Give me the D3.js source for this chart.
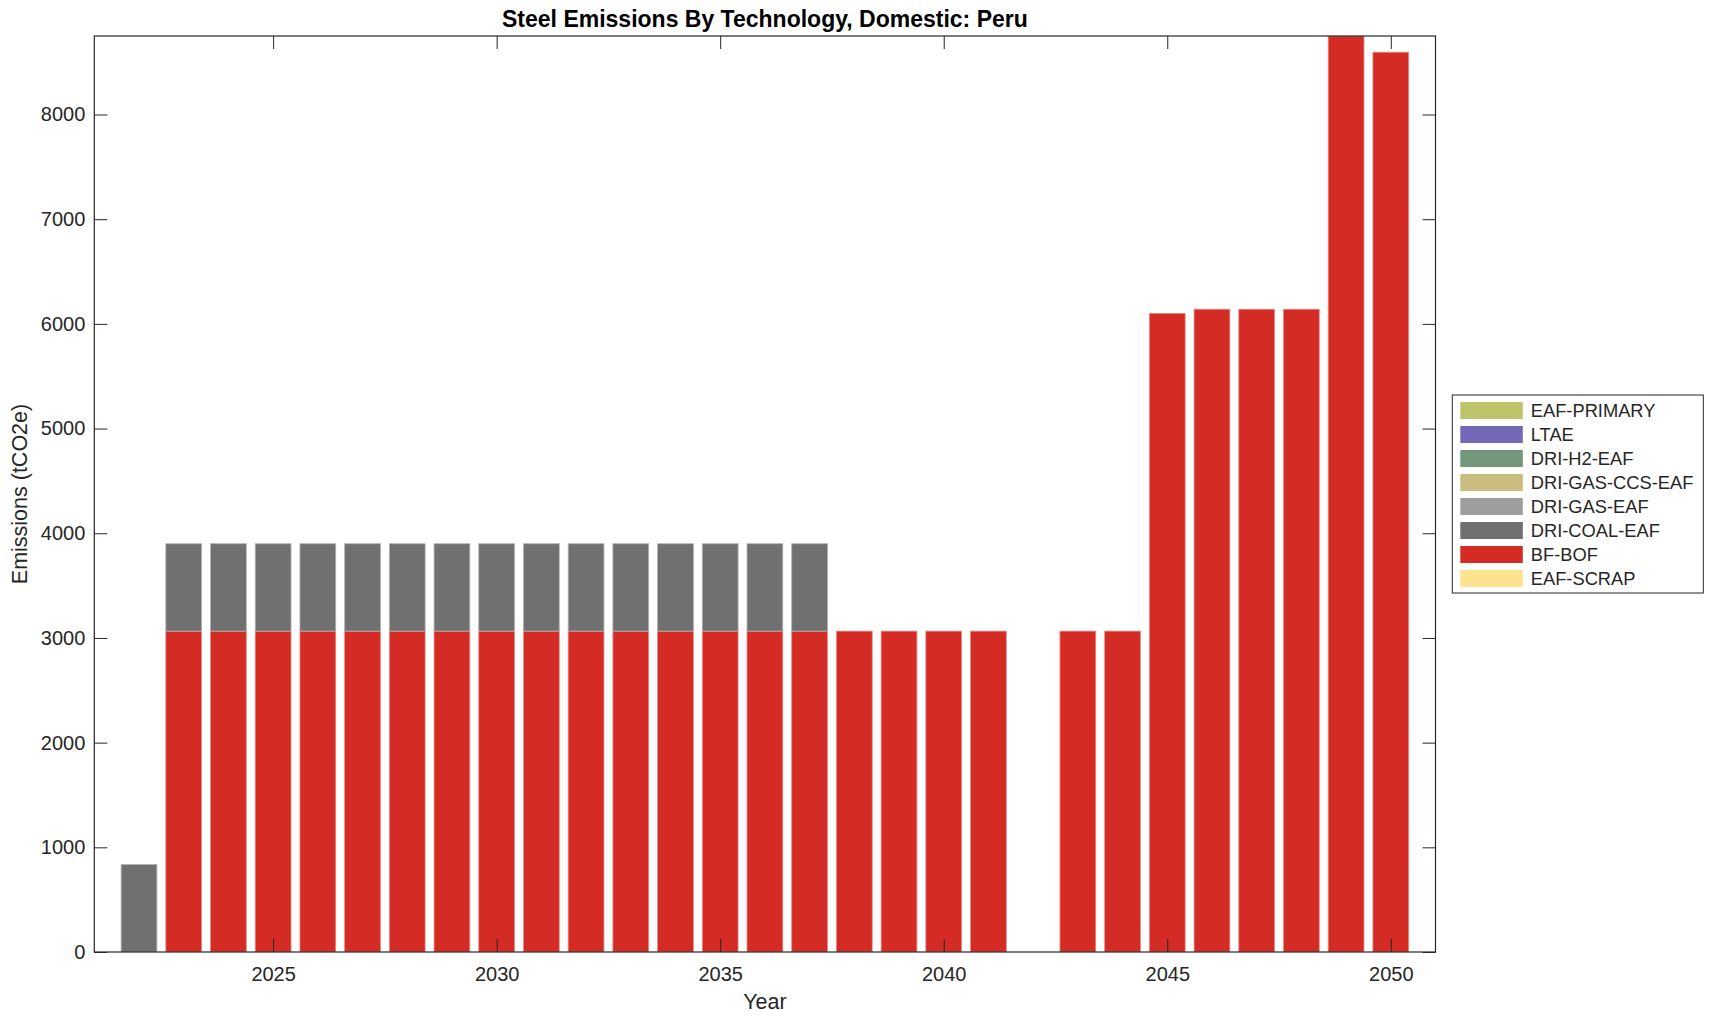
<!DOCTYPE html>
<html>
<head>
<meta charset="utf-8">
<script src="https://cdn.jsdelivr.net/npm/d3@7"></script>
<style>
  body { margin: 0; background: #fff; }
  text { font-family: "Liberation Sans", Arial, Helvetica, sans-serif; fill: #262626; }
</style>
</head>
<body>
<script>
// data
var years = d3.range(2022, 2051);
var techs = ["EAF-SCRAP", "BF-BOF", "DRI-COAL-EAF", "DRI-GAS-EAF", "DRI-GAS-CCS-EAF", "DRI-H2-EAF", "LTAE", "EAF-PRIMARY"];
var colors = ["#FFE38F", "#D42B25", "#707070", "#9E9E9E", "#C8BD7E", "#72977A", "#7469B8", "#BDC46A"];

var eafScrap    = years.map(function(){ return 0; });
var bfBof       = [0, 3065, 3065, 3065, 3065, 3065, 3065, 3065, 3065, 3065, 3065, 3065, 3065, 3065, 3065, 3065,
                   3065, 3065, 3065, 3065, 0, 3065, 3065, 6100, 6140, 6140, 6140, 8750, 8595];
var driCoal     = [835, 835, 835, 835, 835, 835, 835, 835, 835, 835, 835, 835, 835, 835, 835, 835,
                   0, 0, 0, 0, 0, 0, 0, 0, 0, 0, 0, 0, 0];
var driGas      = years.map(function(){ return 0; });
var driGasCcs   = years.map(function(){ return 0; });
var driH2       = years.map(function(){ return 0; });
var ltae        = years.map(function(){ return 0; });
var eafPrimary  = years.map(function(){ return 0; });

var xTicks = [2025, 2030, 2035, 2040, 2045, 2050];
var yTicks = [0, 1000, 2000, 3000, 4000, 5000, 6000, 7000, 8000];

var series = [eafScrap, bfBof, driCoal, driGas, driGasCcs, driH2, ltae, eafPrimary];

var svgWidth = 1714, svgHeight = 1021;
var margin = {top: 36, right: 278.5, bottom: 69, left: 94.3};
var width = svgWidth - margin.left - margin.right;
var height = svgHeight - margin.top - margin.bottom;

var rows = years.map(function(y, i){
  var r = {year: y};
  techs.forEach(function(t, k){ r[t] = series[k][i]; });
  return r;
});
var stacked = d3.stack().keys(techs)(rows);

var svg = d3.select("body").append("svg")
    .attr("width", svgWidth)
    .attr("height", svgHeight);

svg.append("defs").append("clipPath").attr("id", "plotclip")
   .append("rect").attr("width", width).attr("height", height);

var g = svg.append("g")
    .attr("transform", "translate(" + margin.left + "," + margin.top + ")");

var x = d3.scaleLinear().domain([2021, 2051]).range([0, width]);
var y = d3.scaleLinear().domain([0, 8750]).range([height, 0]);
var barW = (x(2022) - x(2021)) * 0.8;

// bars
var bars = g.append("g").attr("clip-path", "url(#plotclip)");
stacked.forEach(function(layer, k){
  bars.selectAll(".bar" + k)
    .data(layer.filter(function(d){ return d[1] - d[0] > 0; }))
    .enter()
    .append("rect")
    .attr("x", function(d){ return x(d.data.year) - barW / 2; })
    .attr("y", function(d){ return y(d[1]); })
    .attr("width", barW)
    .attr("height", function(d){ return y(d[0]) - y(d[1]); })
    .attr("fill", colors[k])
    .attr("stroke", d3.interpolateRgb(colors[k], "#fff")(0.45))
    .attr("stroke-width", 0.8);
});

// axes (ticks inside, box on)
var ink = "#262626";
var tl = 13;
g.append("g")
  .attr("transform", "translate(0," + height + ")")
  .call(d3.axisBottom(x).tickValues(xTicks).tickFormat(d3.format("d")).tickSizeInner(-tl).tickSizeOuter(0).tickPadding(15))
  .call(function(a){
    a.select(".domain").remove();
    a.selectAll("line").attr("stroke", ink);
    a.selectAll("text").attr("font-size", "20px").attr("fill", ink).attr("font-family", "Liberation Sans, Arial, sans-serif");
  });
g.append("g")
  .call(d3.axisTop(x).tickValues(xTicks).tickFormat("").tickSizeInner(-tl).tickSizeOuter(0))
  .call(function(a){ a.select(".domain").remove(); a.selectAll("line").attr("stroke", ink); });
g.append("g")
  .call(d3.axisLeft(y).tickValues(yTicks).tickFormat(d3.format("d")).tickSizeInner(-tl).tickSizeOuter(0).tickPadding(9))
  .call(function(a){
    a.select(".domain").remove();
    a.selectAll("line").attr("stroke", ink);
    a.selectAll("text").attr("font-size", "20px").attr("fill", ink).attr("font-family", "Liberation Sans, Arial, sans-serif");
  });
g.append("g")
  .attr("transform", "translate(" + width + ",0)")
  .call(d3.axisRight(y).tickValues(yTicks).tickFormat("").tickSizeInner(-tl).tickSizeOuter(0))
  .call(function(a){ a.select(".domain").remove(); a.selectAll("line").attr("stroke", ink); });

g.append("rect")
  .attr("width", width).attr("height", height)
  .attr("fill", "none").attr("stroke", ink).attr("stroke-width", 1.2);

// labels
svg.append("text")
  .attr("x", margin.left + width / 2).attr("y", 27)
  .attr("text-anchor", "middle")
  .attr("font-size", "23px").attr("font-weight", "bold")
  .style("fill", "#000")
  .text("Steel Emissions By Technology, Domestic: Peru");

svg.append("text")
  .attr("x", margin.left + width / 2).attr("y", 1009)
  .attr("text-anchor", "middle")
  .attr("font-size", "21.5px")
  .text("Year");

svg.append("text")
  .attr("transform", "translate(27," + (margin.top + height / 2) + ") rotate(-90)")
  .attr("text-anchor", "middle")
  .attr("font-size", "21.5px")
  .text("Emissions (tCO2e)");

// legend, top entry is the last series
var leg = svg.append("g").attr("transform", "translate(1452.3,395)");
leg.append("rect")
  .attr("width", 251).attr("height", 198)
  .attr("fill", "#fff").attr("stroke", ink).attr("stroke-width", 1);
var order = techs.map(function(t, k){ return k; }).reverse();
var items = leg.selectAll(".item")
  .data(order)
  .enter()
  .append("g")
  .attr("transform", function(d, i){ return "translate(0," + (7 + i * 24) + ")"; });
items.append("rect")
  .attr("x", 8).attr("width", 62.5).attr("height", 17)
  .attr("fill", function(d){ return colors[d]; });
items.append("text")
  .attr("x", 78.5).attr("y", 15)
  .attr("font-size", "18.3px")
  .text(function(d){ return techs[d]; });
</script>
</body>
</html>
